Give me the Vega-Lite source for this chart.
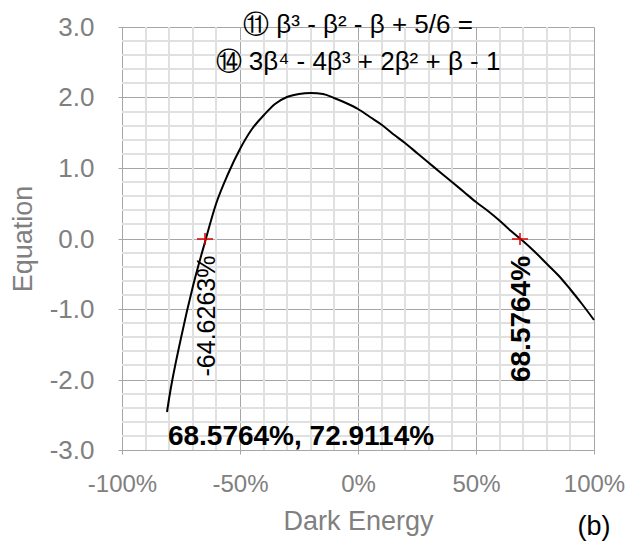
{
  "$schema": "https://vega.github.io/schema/vega-lite/v6.json",
  "width": 472,
  "height": 423,
  "autosize": {"type": "none"},
  "padding": {"left": 122, "top": 27, "right": 44, "bottom": 92},
  "background": "white",
  "config": {"view": {"stroke": null}, "font": "Liberation Sans"},
  "datasets": {
    "curve": [
      {"beta": -0.81, "eq": -2.464},
      {"beta": -0.8, "eq": -2.276},
      {"beta": -0.75, "eq": -1.413},
      {"beta": -0.7, "eq": -0.672},
      {"beta": -0.65, "eq": -0.043},
      {"beta": -0.6, "eq": 0.485},
      {"beta": -0.55, "eq": 0.919},
      {"beta": -0.5, "eq": 1.271},
      {"beta": -0.45, "eq": 1.547},
      {"beta": -0.4, "eq": 1.757},
      {"beta": -0.35, "eq": 1.906},
      {"beta": -0.3, "eq": 2.004},
      {"beta": -0.25, "eq": 2.056},
      {"beta": -0.2, "eq": 2.069},
      {"beta": -0.15, "eq": 2.048},
      {"beta": -0.1, "eq": 1.998},
      {"beta": -0.05, "eq": 1.925},
      {"beta": 0, "eq": 1.833},
      {"beta": 0.05, "eq": 1.726},
      {"beta": 0.1, "eq": 1.608},
      {"beta": 0.15, "eq": 1.481},
      {"beta": 0.2, "eq": 1.349},
      {"beta": 0.25, "eq": 1.212},
      {"beta": 0.3, "eq": 1.074},
      {"beta": 0.35, "eq": 0.935},
      {"beta": 0.4, "eq": 0.797},
      {"beta": 0.45, "eq": 0.658},
      {"beta": 0.5, "eq": 0.521},
      {"beta": 0.55, "eq": 0.383},
      {"beta": 0.6, "eq": 0.245},
      {"beta": 0.65, "eq": 0.103},
      {"beta": 0.7, "eq": -0.042},
      {"beta": 0.75, "eq": -0.194},
      {"beta": 0.8, "eq": -0.355},
      {"beta": 0.85, "eq": -0.530},
      {"beta": 0.9, "eq": -0.720},
      {"beta": 0.95, "eq": -0.931},
      {"beta": 1.0, "eq": -1.15}
    ],
    "xMinor": [
      {"beta": -0.9}, {"beta": -0.8}, {"beta": -0.7}, {"beta": -0.6},
      {"beta": -0.4}, {"beta": -0.3}, {"beta": -0.2}, {"beta": -0.1},
      {"beta": 0.1}, {"beta": 0.2}, {"beta": 0.3}, {"beta": 0.4},
      {"beta": 0.6}, {"beta": 0.7}, {"beta": 0.8}, {"beta": 0.9}
    ],
    "yMinor": [
      {"eq": -2.8}, {"eq": -2.6}, {"eq": -2.4}, {"eq": -2.2},
      {"eq": -1.8}, {"eq": -1.6}, {"eq": -1.4}, {"eq": -1.2},
      {"eq": -0.8}, {"eq": -0.6}, {"eq": -0.4}, {"eq": -0.2},
      {"eq": 0.2}, {"eq": 0.4}, {"eq": 0.6}, {"eq": 0.8},
      {"eq": 1.2}, {"eq": 1.4}, {"eq": 1.6}, {"eq": 1.8},
      {"eq": 2.2}, {"eq": 2.4}, {"eq": 2.6}, {"eq": 2.8}
    ],
    "roots": [
      {"beta": -0.646263, "eq": 0},
      {"beta": 0.685764, "eq": 0}
    ],
    "titleLines": [
      {"beta": 0, "eq": 2.908, "text": "⑪ β³ - β² - β + 5/6 ="},
      {"beta": 0, "eq": 2.383, "text": "⑭ 3β⁴ - 4β³ + 2β² + β - 1"}
    ],
    "rootNeg": [{"beta": -0.639, "eq": -1.106, "text": "-64.6263%"}],
    "rootPos": [{"beta": 0.6965, "eq": -1.14, "text": "68.5764%"}],
    "bottomNote": [{"beta": -0.243, "eq": -2.82, "text": "68.5764%, 72.9114%"}],
    "panel": [{"beta": 1.0, "eq": -4.09, "text": "(b)"}]
  },
  "layer": [
    {
      "data": {"name": "xMinor"},
      "mark": {"type": "rule", "color": "#e0e0e0", "strokeWidth": 2},
      "encoding": {
        "x": {"field": "beta", "type": "quantitative"}
      }
    },
    {
      "data": {"name": "yMinor"},
      "mark": {"type": "rule", "color": "#e0e0e0", "strokeWidth": 2},
      "encoding": {
        "y": {"field": "eq", "type": "quantitative"}
      }
    },
    {
      "data": {"name": "curve"},
      "mark": {"type": "line", "color": "black", "strokeWidth": 2, "interpolate": "monotone"},
      "encoding": {
        "x": {
          "field": "beta", "type": "quantitative",
          "scale": {"domain": [-1, 1], "nice": false, "zero": false, "round": true},
          "axis": {
            "title": "Dark Energy",
            "tickCount": 4,
            "labelExpr": "round(datum.value*100)+'%'",
            "labelOverlap": false,
            "labelFlush": false,
            "grid": true,
            "gridColor": "#a6a6a6",
            "gridWidth": 1,
            "domainColor": "#a6a6a6",
            "tickColor": "#a6a6a6",
            "tickSize": 4,
            "labelColor": "#808080",
            "labelFontSize": 24,
            "labelPadding": 18,
            "titleColor": "#808080",
            "titleFontSize": 27,
            "titleFontWeight": "normal",
            "titlePadding": 12
          }
        },
        "y": {
          "field": "eq", "type": "quantitative",
          "scale": {"domain": [-3, 3], "nice": false, "zero": false, "round": true},
          "axis": {
            "title": "Equation",
            "tickCount": 6,
            "labelExpr": "(datum.value<0 ? '-' : '') + format(abs(datum.value),'.1f')",
            "labelOverlap": false,
            "labelFlush": false,
            "grid": true,
            "gridColor": "#a6a6a6",
            "gridWidth": 1,
            "domainColor": "#a6a6a6",
            "tickColor": "#a6a6a6",
            "tickSize": 4,
            "labelColor": "#808080",
            "labelFontSize": 26,
            "labelPadding": 24,
            "titleColor": "#808080",
            "titleFontSize": 27,
            "titleFontWeight": "normal",
            "titlePadding": 12
          }
        }
      }
    },
    {
      "data": {"name": "roots"},
      "mark": {"type": "point", "shape": "M-1,0L1,0M0,-0.75L0,0.75", "filled": false, "stroke": "#e00000", "strokeWidth": 1.5, "size": 256, "opacity": 1},
      "encoding": {
        "x": {"field": "beta", "type": "quantitative"},
        "y": {"field": "eq", "type": "quantitative"}
      }
    },
    {
      "data": {"name": "titleLines"},
      "mark": {"type": "text", "fontSize": 26, "color": "black", "align": "center", "baseline": "alphabetic"},
      "encoding": {
        "x": {"field": "beta", "type": "quantitative"},
        "y": {"field": "eq", "type": "quantitative"},
        "text": {"field": "text"}
      }
    },
    {
      "data": {"name": "rootNeg"},
      "mark": {"type": "text", "fontSize": 25, "color": "black", "align": "center", "baseline": "middle", "angle": 270},
      "encoding": {
        "x": {"field": "beta", "type": "quantitative"},
        "y": {"field": "eq", "type": "quantitative"},
        "text": {"field": "text"}
      }
    },
    {
      "data": {"name": "rootPos"},
      "mark": {"type": "text", "fontSize": 28, "fontWeight": "bold", "color": "black", "align": "center", "baseline": "middle", "angle": 270},
      "encoding": {
        "x": {"field": "beta", "type": "quantitative"},
        "y": {"field": "eq", "type": "quantitative"},
        "text": {"field": "text"}
      }
    },
    {
      "data": {"name": "bottomNote"},
      "mark": {"type": "text", "fontSize": 28, "fontWeight": "bold", "color": "black", "align": "center", "baseline": "middle"},
      "encoding": {
        "x": {"field": "beta", "type": "quantitative"},
        "y": {"field": "eq", "type": "quantitative"},
        "text": {"field": "text"}
      }
    },
    {
      "data": {"name": "panel"},
      "mark": {"type": "text", "fontSize": 27, "color": "black", "align": "center", "baseline": "middle"},
      "encoding": {
        "x": {"field": "beta", "type": "quantitative"},
        "y": {"field": "eq", "type": "quantitative"},
        "text": {"field": "text"}
      }
    }
  ]
}
